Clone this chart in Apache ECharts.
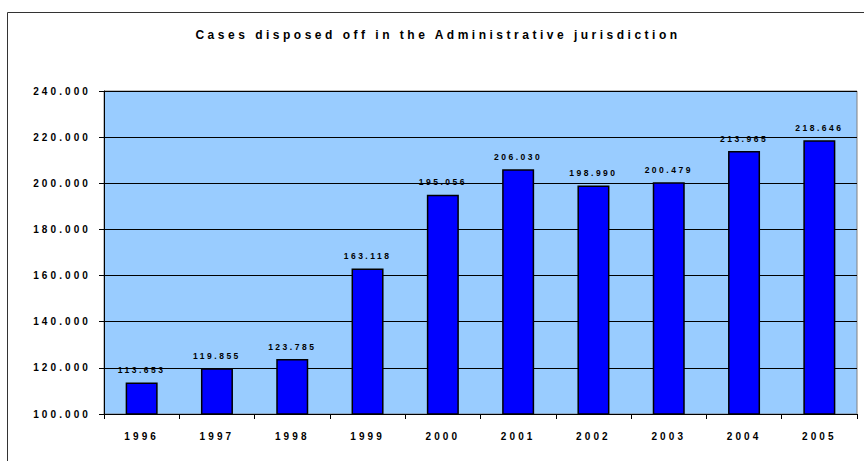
<!DOCTYPE html>
<html>
<head>
<meta charset="utf-8">
<script src="https://cdn.jsdelivr.net/npm/echarts@6/dist/echarts.min.js"></script>
<style>
  html, body { margin: 0; padding: 0; background: #fff; }
  #chart { width: 864px; height: 461px; }
</style>
</head>
<body>
<div id="chart"></div>
<script>
const titleText = 'Cases disposed off in the Administrative jurisdiction';
const years = ['1996', '1997', '1998', '1999', '2000', '2001', '2002', '2003', '2004', '2005'];
const cases = [113653, 119855, 123785, 163118, 195056, 206030, 198990, 200479, 213965, 218646];
const yMin = 100000, yMax = 240000, yStep = 20000;

function fmt(v) {
  return String(Math.round(v)).replace(/\B(?=(\d{3})+(?!\d))/g, '.');
}

const FONT = 'Liberation Sans, Arial, sans-serif';
const chart = echarts.init(document.getElementById('chart'), null, { renderer: 'svg' });

function applySpacing() {
  document.querySelectorAll('#chart svg text').forEach(function (el) {
    const fs = parseFloat(getComputedStyle(el).fontSize);
    let s = 3;
    if (fs >= 11.5) s = 3.5;
    else if (fs >= 9.5) s = 3.1;
    else s = 2.5;
    el.style.letterSpacing = s + 'px';
  });
}
chart.on('finished', applySpacing);

chart.setOption({
  animation: false,
  backgroundColor: '#ffffff',
  title: {
    text: titleText,
    left: 433, top: 24, textAlign: 'center',
    textStyle: { fontFamily: FONT, fontWeight: 'bold', fontSize: 12, color: '#000' }
  },
  graphic: [{
    type: 'rect', shape: { x: 7.5, y: 12.5, width: 1000, height: 1000 },
    style: { fill: 'none', stroke: '#333', lineWidth: 1 }, silent: true
  }],
  grid: {
    left: 104, right: 7, top: 91, bottom: 47,
    show: true, backgroundColor: '#99CCFF', borderColor: '#808080', borderWidth: 1
  },
  xAxis: {
    type: 'category', data: years,
    axisLine: { lineStyle: { color: '#000', width: 1 } },
    axisTick: { show: true, alignWithLabel: false, length: 5, lineStyle: { color: '#000' } },
    axisLabel: { margin: 17, fontFamily: FONT, fontWeight: 'bold', fontSize: 10, color: '#000' }
  },
  yAxis: {
    type: 'value', min: yMin, max: yMax, interval: yStep,
    axisLine: { show: true, lineStyle: { color: '#000', width: 1 } },
    axisTick: { show: true, length: 5, lineStyle: { color: '#000' } },
    splitLine: { show: true, lineStyle: { color: '#000', width: 1 } },
    axisLabel: { margin: 13, formatter: fmt, fontFamily: FONT, fontWeight: 'bold', fontSize: 10, color: '#000' }
  },
  series: [{
    type: 'bar', data: cases, barWidth: 32,
    itemStyle: { color: '#0000FF', borderColor: '#000', borderWidth: 1.5 },
    label: {
      show: true, position: 'top', distance: 8, formatter: p => fmt(p.value),
      fontFamily: FONT, fontWeight: 'bold', fontSize: 8.5, color: '#000'
    }
  }]
});
applySpacing();
</script>
</body>
</html>
